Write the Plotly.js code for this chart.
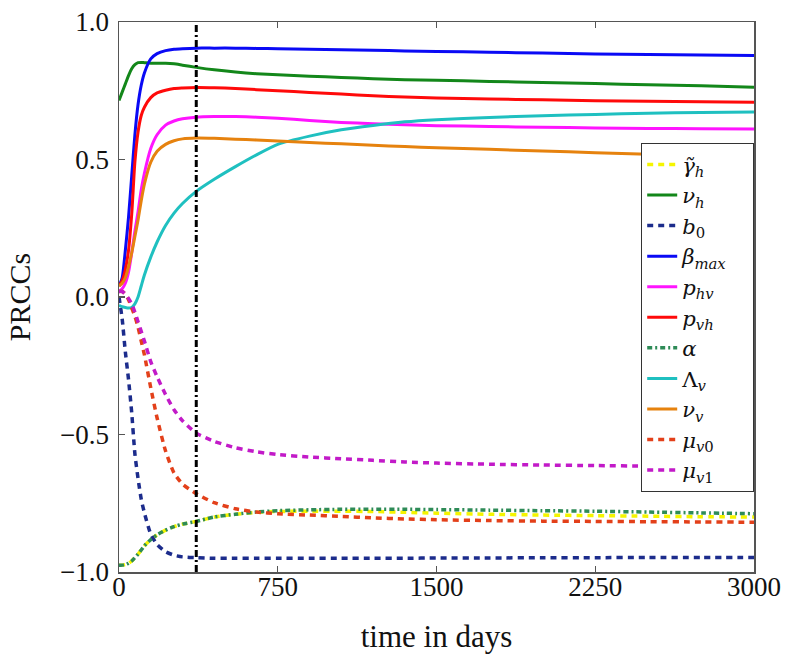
<!DOCTYPE html>
<html>
<head>
<meta charset="utf-8">
<script src="https://cdn.plot.ly/plotly-3.0.1.min.js"></script>
<style>
  html, body { margin: 0; padding: 0; background: #fff; }
  #chart { width: 800px; height: 665px; }
</style>
</head>
<body>
<div id="chart"></div>
<script>
// ---- data ----
const days = [0, 15, 30, 45, 60, 75, 90, 105, 120, 150, 180, 220, 260, 300, 365, 450, 550, 650, 750, 900, 1050, 1200, 1350, 1500, 1750, 2000, 2250, 2500, 2750, 3000];

const gammaH = [-0.975, -0.975, -0.973, -0.968, -0.96, -0.948, -0.935, -0.92, -0.905, -0.882, -0.865, -0.848, -0.835, -0.826, -0.816, -0.8, -0.79, -0.783, -0.78, -0.779, -0.779, -0.78, -0.783, -0.786, -0.79, -0.793, -0.795, -0.797, -0.799, -0.8];
const nuH = [0.715, 0.745, 0.775, 0.805, 0.83, 0.845, 0.852, 0.853, 0.852, 0.85, 0.85, 0.85, 0.848, 0.843, 0.835, 0.826, 0.818, 0.812, 0.808, 0.803, 0.798, 0.794, 0.79, 0.788, 0.784, 0.78, 0.776, 0.772, 0.768, 0.763];
const b0 = [0.0, -0.08, -0.2, -0.3, -0.42, -0.57, -0.66, -0.735, -0.785, -0.862, -0.9, -0.926, -0.939, -0.945, -0.948, -0.95, -0.95, -0.95, -0.95, -0.95, -0.95, -0.95, -0.95, -0.949, -0.949, -0.948, -0.948, -0.947, -0.947, -0.947];
const betaMax = [0.04, 0.07, 0.17, 0.29, 0.44, 0.59, 0.70, 0.77, 0.815, 0.866, 0.885, 0.896, 0.901, 0.903, 0.905, 0.905, 0.905, 0.904, 0.903, 0.901, 0.899, 0.897, 0.895, 0.893, 0.89, 0.887, 0.884, 0.882, 0.88, 0.878];
const pHV = [0.02, 0.03, 0.05, 0.09, 0.16, 0.24, 0.31, 0.39, 0.45, 0.54, 0.59, 0.625, 0.64, 0.648, 0.654, 0.656, 0.656, 0.654, 0.65, 0.642, 0.635, 0.63, 0.626, 0.623, 0.62, 0.617, 0.615, 0.613, 0.612, 0.611];
const pVH = [0.04, 0.06, 0.1, 0.17, 0.3, 0.49, 0.6, 0.66, 0.69, 0.725, 0.742, 0.752, 0.758, 0.76, 0.762, 0.761, 0.758, 0.754, 0.75, 0.744, 0.738, 0.732, 0.727, 0.724, 0.72, 0.717, 0.714, 0.712, 0.71, 0.708];
const alphaP = [-0.975, -0.975, -0.973, -0.968, -0.96, -0.948, -0.935, -0.92, -0.905, -0.882, -0.865, -0.848, -0.835, -0.826, -0.816, -0.8, -0.79, -0.782, -0.777, -0.774, -0.772, -0.772, -0.772, -0.773, -0.775, -0.777, -0.779, -0.782, -0.785, -0.788];
const lambdaV = [-0.03, -0.035, -0.038, -0.04, -0.038, -0.025, 0.0, 0.04, 0.08, 0.145, 0.2, 0.26, 0.305, 0.34, 0.384, 0.428, 0.474, 0.517, 0.555, 0.585, 0.608, 0.624, 0.637, 0.645, 0.653, 0.659, 0.664, 0.668, 0.671, 0.673];
const nuV = [0.04, 0.05, 0.07, 0.11, 0.16, 0.22, 0.28, 0.35, 0.41, 0.49, 0.53, 0.555, 0.568, 0.575, 0.578, 0.577, 0.574, 0.571, 0.567, 0.562, 0.557, 0.552, 0.547, 0.543, 0.537, 0.531, 0.525, 0.519, 0.513, 0.507];
const muV0 = [0.02, 0.02, 0.01, -0.01, -0.04, -0.07, -0.11, -0.16, -0.21, -0.33, -0.44, -0.56, -0.64, -0.68, -0.715, -0.748, -0.77, -0.782, -0.788, -0.793, -0.798, -0.803, -0.807, -0.81, -0.813, -0.815, -0.816, -0.817, -0.818, -0.819];
const muV1 = [0.02, 0.02, 0.01, -0.005, -0.025, -0.055, -0.09, -0.125, -0.16, -0.235, -0.29, -0.355, -0.41, -0.45, -0.495, -0.525, -0.548, -0.563, -0.573, -0.582, -0.588, -0.594, -0.6, -0.604, -0.608, -0.611, -0.613, -0.615, -0.616, -0.617];

const markerDay = 365;           // vertical dash-dot reference line (one year)
const xTicks = [0, 750, 1500, 2250, 3000];
const yTicks = [-1.0, -0.5, 0.0, 0.5, 1.0];

// ---- styling ----
const serif = "Liberation Serif, DejaVu Serif, serif";
const legendFont = "DejaVu Serif, Liberation Serif, serif";
const dotDash = "6px,5px";
const dashDot = "5px,3px,2px,3px";
const pad = "\u00A0\u00A0\u00A0";

function tr(name, y, color, dash) {
  return {
    type: "scatter", mode: "lines", x: days, y: y, name: name,
    line: { color: color, width: dash === "solid" ? 3 : 3.5, dash: dash, shape: "spline", smoothing: 0.6 }
  };
}

const traces = [
  tr("<i>γ̃<sub>h</sub></i>", gammaH, "#f5f500", dotDash),
  tr("<i>ν<sub>h</sub></i>", nuH, "#13871a", "solid"),
  tr("<i>b</i><sub>0</sub>", b0, "#1c2c8c", dotDash),
  tr("<i>β<sub>max</sub></i>" + pad, betaMax, "#0a0af5", "solid"),
  tr("<i>p<sub>hv</sub></i>", pHV, "#ff14ff", "solid"),
  tr("<i>p<sub>vh</sub></i>", pVH, "#ff0a0a", "solid"),
  tr("<i>α</i>", alphaP, "#2e8b57", dashDot),
  tr("Λ<sub><i>v</i></sub>", lambdaV, "#1fc0c0", "solid"),
  tr("<i>ν<sub>v</sub></i>", nuV, "#e6820e", "solid"),
  tr("<i>μ<sub>v</sub></i><sub>0</sub>", muV0, "#e3401a", dotDash),
  tr("<i>μ<sub>v</sub></i><sub>1</sub>", muV1, "#c21ac8", dotDash),
  {
    type: "scatter", mode: "lines", x: [markerDay, markerDay], y: [yTicks[0], yTicks[yTicks.length - 1]],
    showlegend: false, hoverinfo: "skip",
    line: { color: "#000", width: 3, dash: "7px,3px,2px,3px" }
  }
];

const axisCommon = {
  showgrid: false, zeroline: false, showline: true, mirror: "ticks",
  linecolor: "#555", linewidth: 1.5, ticks: "inside", ticklen: 6, tickcolor: "#555", tickwidth: 1.2,
  tickfont: { family: serif, size: 27, color: "#111" }
};

const layout = {
  width: 800, height: 665,
  margin: { l: 119, r: 46, t: 22, b: 93 },
  paper_bgcolor: "#fff", plot_bgcolor: "#fff",
  showlegend: true,
  xaxis: Object.assign({}, axisCommon, {
    range: [0, 3000], tickvals: xTicks, ticktext: xTicks.map(String),
    ticklabelstandoff: -10,
    title: { text: "time in days", font: { family: serif, size: 31, color: "#111" }, standoff: 24 }
  }),
  yaxis: Object.assign({}, axisCommon, {
    range: [-1, 1], tickvals: yTicks, tickformat: ".1f",
    ticklabelstandoff: 3,
    title: { text: "PRCCs", font: { family: serif, size: 30, color: "#111" }, standoff: 20 }
  }),
  legend: {
    x: 1, xanchor: "right", y: 0.78, yanchor: "top",
    bgcolor: "#fff", bordercolor: "#333", borderwidth: 1.2,
    font: { family: legendFont, size: 21.2, color: "#111" },
    tracegroupgap: 0, itemwidth: 30
  }
};

Plotly.newPlot("chart", traces, layout, { displayModeBar: false, staticPlot: true });
</script>
</body>
</html>
